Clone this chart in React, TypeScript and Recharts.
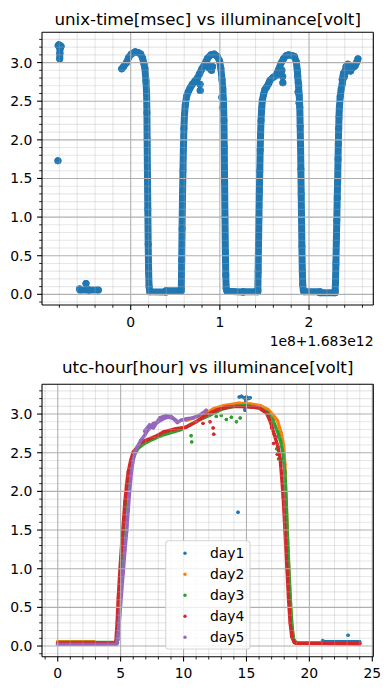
import React from 'react';
import { ScatterChart, Scatter, XAxis, YAxis, ReferenceLine } from 'recharts';

type Pt = [number, number];

// hour of day (local) vs volt; each day is a list of runs
const day1: Pt[][] = [
  [[14.33, 1.73]],
  [[14.42, 3.22], [14.6, 3.23], [14.8, 3.21], [15.0, 3.22], [15.15, 3.2], [15.3, 3.21]],
  [[14.95, 3.19], [14.93, 3.12], [14.88, 3.05]],
  [[21.05, 0.07], [21.2, 0.056], [24.0, 0.056]],
  [[23.07, 0.14]],
];

const day2: Pt[][] = [
  [[0, 0.056], [2.9, 0.056]],
  [
    [10.2, 2.92], [10.8, 2.95], [11.7, 3.0], [12.4, 3.07], [13.2, 3.11], [14.4, 3.14], [15.3, 3.13],
    [16.1, 3.11], [16.7, 3.06], [17.1, 2.99], [17.45, 2.92], [17.75, 2.76], [17.95, 2.6], [18.05, 2.35],
    [18.12, 2.0], [18.22, 1.55], [18.33, 1.1], [18.45, 0.65], [18.58, 0.3], [18.72, 0.1], [18.95, 0.035],
    [24, 0.03],
  ],
];

const day3: Pt[][] = [
  [[0, 0.045], [4.75, 0.045]],
  [
    [4.78, 0.08], [4.88, 0.45], [5.0, 0.85], [5.15, 1.3], [5.28, 1.6], [5.42, 1.9], [5.58, 2.15],
    [5.75, 2.32], [6.0, 2.45], [6.4, 2.56], [6.9, 2.62], [7.5, 2.67], [8.2, 2.72], [9.0, 2.76],
    [9.8, 2.8], [10.5, 2.86], [11.2, 2.92], [12.0, 2.98], [13.0, 3.06], [14.0, 3.1], [15.0, 3.11],
    [16.0, 3.08], [16.7, 3.02], [17.1, 2.92], [17.45, 2.78], [17.7, 2.66], [17.9, 2.5], [18.05, 2.25],
    [18.15, 1.9], [18.25, 1.45], [18.37, 1.0], [18.5, 0.55], [18.62, 0.25], [18.75, 0.08], [19.0, 0.04],
    [24, 0.03],
  ],
  [[10.6, 2.72]], [[10.65, 2.64]], [[12.6, 2.97]], [[13.0, 2.98]], [[13.4, 2.93]], [[13.8, 2.96]],
  [[14.2, 2.9]], [[14.5, 2.95]], [[17.4, 2.55]], [[17.55, 2.42]],
];

const day4: Pt[][] = [
  [[0, 0.035], [4.6, 0.035]],
  [
    [4.62, 0.06], [4.72, 0.3], [4.81, 0.62], [4.95, 1.0], [5.08, 1.31], [5.22, 1.6], [5.34, 1.87],
    [5.47, 2.08], [5.6, 2.25], [5.8, 2.4], [6.0, 2.51], [6.4, 2.59], [6.8, 2.65], [7.3, 2.68],
    [8.0, 2.73], [8.4, 2.77], [9.4, 2.81], [10.2, 2.83], [11.0, 2.9], [11.8, 2.99], [12.6, 3.05],
    [13.4, 3.09], [14.2, 3.1], [15.3, 3.09], [16.0, 3.08], [16.6, 3.01], [16.9, 2.9], [17.2, 2.74],
    [17.5, 2.58], [17.68, 2.42], [17.8, 2.18], [17.92, 1.92], [18.02, 1.62], [18.12, 1.3], [18.22, 1.0],
    [18.34, 0.62], [18.47, 0.3], [18.6, 0.12], [18.8, 0.045], [19.0, 0.035], [24, 0.035],
  ],
  [[11.55, 2.88]], [[12.1, 2.9]], [[12.35, 2.82]], [[12.4, 2.74]], [[17.0, 2.82]], [[17.15, 2.62]],
  [[17.35, 2.7]], [[17.45, 2.48]],
];

const day5: Pt[][] = [
  [[0, 0.022], [4.68, 0.022]],
  [
    [4.7, 0.05], [4.8, 0.15], [4.94, 0.4], [5.08, 0.7], [5.21, 0.96], [5.35, 1.25], [5.48, 1.48],
    [5.6, 1.75], [5.69, 1.95], [5.8, 2.15], [5.9, 2.3], [6.02, 2.42], [6.27, 2.56], [6.6, 2.66],
    [6.93, 2.73], [7.2, 2.8], [7.45, 2.83], [7.6, 2.88], [8.0, 2.9], [8.4, 2.94], [8.8, 2.96],
    [9.2, 2.94], [9.5, 2.89], [9.8, 2.92], [10.25, 2.94], [10.7, 2.95], [11.05, 2.97], [11.5, 3.01],
    [11.8, 3.05],
  ],
  [[6.9, 2.78], [7.3, 2.86], [7.6, 2.82], [8.1, 2.95], [8.6, 2.98], [9.0, 2.97], [9.4, 2.92]],
];

const dayNames = ['day1', 'day2', 'day3', 'day4', 'day5'];
const dayColors = ['#1f77b4', '#ff7f0e', '#2ca02c', '#d62728', '#9467bd'];
const days = [day1, day2, day3, day4, day5];

// day1 00:00 local time as unix ms, and the axis offset shown by matplotlib
const DAY1_START_MS = 1682866800000;
const MS_OFFSET = 1.683e12;
const MS_SCALE = 1e8;

const voltMajor = [0, 0.5, 1, 1.5, 2, 2.5, 3];
const voltMinor = [-0.1, 0.1, 0.2, 0.3, 0.4, 0.6, 0.7, 0.8, 0.9, 1.1, 1.2, 1.3, 1.4, 1.6, 1.7, 1.8, 1.9,
  2.1, 2.2, 2.3, 2.4, 2.6, 2.7, 2.8, 2.9, 3.1, 3.2, 3.3];
const unixMajor = [0, 1, 2];
const unixMinor = [-0.8, -0.6, -0.4, -0.2, 0.2, 0.4, 0.6, 0.8, 1.2, 1.4, 1.6, 1.8, 2.2, 2.4, 2.6];
const hourMajor = [0, 5, 10, 15, 20, 25];
const hourMinor = [-1, 1, 2, 3, 4, 6, 7, 8, 9, 11, 12, 13, 14, 16, 17, 18, 19, 21, 22, 23, 24];

const unixRuns = days.flatMap((runs, d) =>
  runs.map((run) =>
    run.map(([h, v]) => ({ x: (DAY1_START_MS + (d * 24 + h) * 3.6e6 - MS_OFFSET) / MS_SCALE, y: v }))
  )
);
const hourRuns = days.map((runs) => runs.map((run) => run.map(([h, v]) => ({ x: h, y: v }))));

const FONT = 'DejaVu Sans';
const TICK_FS = 13.9;
const GRID = '#b0b0b0';

const isMajor = (list: number[], v: number) => list.some((m) => Math.abs(m - v) < 1e-6);
const allTicks = (a: number[], b: number[]) => [...a, ...b].sort((p, q) => p - q);

const xTick = (majors: number[]) => (props: any) => {
  const { x, y, payload } = props;
  const major = isMajor(majors, payload.value);
  return (
    <g>
      <line x1={x} x2={x} y1={y} y2={y + (major ? 4.9 : 2.8)} stroke="#000" strokeWidth={major ? 1.1 : 0.85} />
      {major && (
        <text x={x} y={y + 21.5} textAnchor="middle" fontSize={TICK_FS} fontFamily={FONT} fill="#000">
          {String(payload.value)}
        </text>
      )}
    </g>
  );
};

const yTick = (majors: number[]) => (props: any) => {
  const { x, y, payload } = props;
  const major = isMajor(majors, payload.value);
  return (
    <g>
      <line x1={x} x2={x - (major ? 4.9 : 2.8)} y1={y} y2={y} stroke="#000" strokeWidth={major ? 1.1 : 0.85} />
      {major && (
        <text x={x - 9.7} y={y + 5} textAnchor="end" fontSize={TICK_FS} fontFamily={FONT} fill="#000">
          {payload.value.toFixed(1)}
        </text>
      )}
    </g>
  );
};

const gridLines = (xMaj: number[], xMin: number[], yMaj: number[], yMin: number[]) => [
  ...xMin.map((v) => (
    <ReferenceLine key={'xn' + v} x={v} stroke={GRID} strokeOpacity={0.3} strokeWidth={1.1} zIndex={700} />
  )),
  ...yMin.map((v) => (
    <ReferenceLine key={'yn' + v} y={v} stroke={GRID} strokeOpacity={0.3} strokeWidth={1.1} zIndex={700} />
  )),
  ...xMaj.map((v) => <ReferenceLine key={'xj' + v} x={v} stroke={GRID} strokeWidth={1.1} zIndex={710} />),
  ...yMaj.map((v) => <ReferenceLine key={'yj' + v} y={v} stroke={GRID} strokeWidth={1.1} zIndex={710} />),
];

const spines = (xd: number[], yd: number[]) => [
  <ReferenceLine key="sl" x={xd[0]} stroke="#000" strokeWidth={1.1} ifOverflow="visible" zIndex={800} />,
  <ReferenceLine key="sr" x={xd[1]} stroke="#000" strokeWidth={1.1} ifOverflow="visible" zIndex={800} />,
  <ReferenceLine key="sb" y={yd[0]} stroke="#000" strokeWidth={1.1} ifOverflow="visible" zIndex={800} />,
  <ReferenceLine key="st" y={yd[1]} stroke="#000" strokeWidth={1.1} ifOverflow="visible" zIndex={800} />,
];

const dot = (color: string, r: number) => (p: any) => <circle cx={p.cx} cy={p.cy} r={r} fill={color} />;

const unixDomain = [-0.995, 2.721];
const voltDomainTop = [-0.138, 3.392];
const hourDomain = [-1.25, 25.08];
const voltDomainBottom = [-0.138, 3.385];

export default function App() {
  return (
    <div style={{ position: 'absolute', left: 0, top: 0, width: 389, height: 690, background: '#fff' }}>
      <div style={{ position: 'absolute', left: 0, top: 0 }}>
        <ScatterChart width={389} height={345} margin={{ top: 32.3, right: 15.7, bottom: 10, left: 12 }}>
          <XAxis type="number" dataKey="x" domain={unixDomain} allowDataOverflow ticks={allTicks(unixMajor, unixMinor)}
            interval={0} tickLine={false} axisLine={false} tickSize={0} tickMargin={0} height={30} tick={xTick(unixMajor)} />
          <YAxis type="number" dataKey="y" domain={voltDomainTop} allowDataOverflow ticks={allTicks(voltMajor, voltMinor)}
            interval={0} tickLine={false} axisLine={false} tickSize={0} tickMargin={0} width={30} tick={yTick(voltMajor)} />
          {unixRuns.map((run, i) => (
            <Scatter key={'u' + i} data={run} fill={dayColors[0]} isAnimationActive={false}
              line={{ stroke: dayColors[0], strokeWidth: 7, strokeLinecap: 'round', strokeLinejoin: 'round' }}
              lineType="joint" shape={dot(dayColors[0], 3.5)} />
          ))}
          {gridLines(unixMajor, unixMinor, voltMajor, voltMinor)}
          {spines(unixDomain, voltDomainTop)}
        </ScatterChart>
      </div>
      <div style={{ position: 'absolute', left: 0, top: 345 }}>
        <ScatterChart width={389} height={345} margin={{ top: 39.3, right: 15.7, bottom: 3.3, left: 12 }}>
          <XAxis type="number" dataKey="x" domain={hourDomain} allowDataOverflow ticks={allTicks(hourMajor, hourMinor)}
            interval={0} tickLine={false} axisLine={false} tickSize={0} tickMargin={0} height={30} tick={xTick(hourMajor)} />
          <YAxis type="number" dataKey="y" domain={voltDomainBottom} allowDataOverflow ticks={allTicks(voltMajor, voltMinor)}
            interval={0} tickLine={false} axisLine={false} tickSize={0} tickMargin={0} width={30} tick={yTick(voltMajor)} />
          {hourRuns.flatMap((runs, d) =>
            runs.map((run, i) => (
              <Scatter key={'h' + d + '-' + i} name={dayNames[d]} data={run} fill={dayColors[d]} isAnimationActive={false}
                line={{ stroke: dayColors[d], strokeWidth: 3.4, strokeLinecap: 'round', strokeLinejoin: 'round' }}
                lineType="joint" shape={dot(dayColors[d], 1.7)} />
            ))
          )}
          {gridLines(hourMajor, hourMinor, voltMajor, voltMinor)}
          {spines(hourDomain, voltDomainBottom)}
        </ScatterChart>
      </div>
      <svg width={389} height={690} style={{ position: 'absolute', left: 0, top: 0, pointerEvents: 'none' }}>
        <text x={207.7} y={25.2} textAnchor="middle" fontSize={16.7} fontFamily={FONT} fill="#000">
          unix-time[msec] vs illuminance[volt]
        </text>
        <text x={373.5} y={346.3} textAnchor="end" fontSize={TICK_FS} fontFamily={FONT} fill="#000">
          1e8+1.683e12
        </text>
        <text x={207.7} y={372.5} textAnchor="middle" fontSize={16.7} fontFamily={FONT} fill="#000">
          utc-hour[hour] vs illuminance[volt]
        </text>
        <rect x={165.7} y={540.7} width={84.3} height={108.3} rx={2.8} fill="#fff" fillOpacity={0.8}
          stroke="#cccccc" strokeOpacity={0.8} strokeWidth={1.1} />
        {dayNames.map((name, i) => (
          <g key={name}>
            <circle cx={185} cy={553.3 + i * 21} r={1.7} fill={dayColors[i]} />
            <text x={210} y={558.3 + i * 21} fontSize={TICK_FS} fontFamily={FONT} fill="#000">
              {name}
            </text>
          </g>
        ))}
      </svg>
    </div>
  );
}
